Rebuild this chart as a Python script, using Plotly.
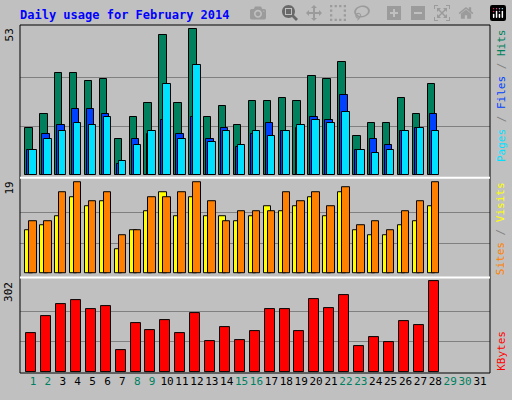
import plotly.graph_objects as go

# Data
days = list(range(1, 32))
hits = [17, 22, 37, 37, 34, 35, 13, 21, 26, 51, 26, 53, 21, 25, 18, 27, 27, 28, 27, 36, 35, 41, 14, 19, 19, 28, 22, 33]
files = [9, 15, 18, 24, 24, 22, 4, 13, 15, 20, 15, 21, 13, 17, 10, 15, 19, 16, 17, 21, 20, 29, 9, 13, 11, 16, 17, 22]
pages = [9, 13, 16, 19, 18, 21, 5, 11, 16, 33, 13, 40, 12, 16, 11, 16, 14, 16, 18, 20, 19, 23, 9, 8, 9, 16, 17, 16]
visits = [9, 10, 12, 16, 14, 15, 5, 9, 13, 17, 12, 16, 12, 12, 11, 12, 14, 13, 14, 16, 12, 17, 9, 8, 8, 10, 11, 14]
sites = [11, 11, 17, 19, 15, 17, 8, 9, 16, 16, 17, 19, 15, 11, 13, 13, 13, 17, 15, 17, 14, 18, 10, 11, 9, 13, 15, 19]
kbytes = [130, 186, 226, 239, 209, 219, 71, 163, 140, 173, 130, 196, 104, 150, 107, 137, 209, 209, 137, 243, 213, 256, 87, 117, 100, 170, 157, 302]
weekends = [1, 2, 8, 9, 15, 16, 22, 23, 29, 30]

n = len(hits)
x = days[:n]
line = dict(color="black", width=1)
font = "DejaVu Sans Mono"

fig = go.Figure()
for vals, col, off, ya in [
    (hits, "#00805C", -0.52, "y"), (files, "#0040FF", -0.38, "y"), (pages, "#00E0FF", -0.25, "y"),
    (visits, "#FFFF00", -0.52, "y2"), (sites, "#FF8000", -0.25, "y2"),
]:
    fig.add_trace(go.Bar(x=x, y=vals, width=0.5, offset=off, yaxis=ya,
                         marker=dict(color=col, line=line)))
fig.add_trace(go.Bar(x=x, y=kbytes, width=0.67, offset=-0.45, yaxis="y3",
                     marker=dict(color="#FF0000", line=line)))

def yax(dom, top, rng):
    return dict(domain=dom, range=rng, tickvals=[top / 3, 2 * top / 3], showticklabels=False,
                gridcolor="#808080", gridwidth=1, zeroline=False, showline=False, ticks="")

hmax, smax, kmax = max(hits), max(sites), max(kbytes)
ticktext = [f'<span style="color:{"#008060" if d in weekends else "black"}">{d}</span>' for d in days]

fig.update_layout(
    width=512, height=400,
    margin=dict(l=20, r=22, t=25, b=23),
    paper_bgcolor="#C0C0C0", plot_bgcolor="#C0C0C0",
    barmode="overlay", bargap=0, showlegend=False,
    font=dict(family=font, size=11, color="black"),
    xaxis=dict(anchor="y3", range=[0.13, 31.67], tickvals=days, ticktext=ticktext, tickangle=0,
               showgrid=False, zeroline=False, ticks="", tickfont=dict(size=11)),
    yaxis=yax([0.5625, 1], hmax, [-0.83, hmax + 1.5]),
    yaxis2=yax([0.2756, 0.5597], smax, [-0.76, smax + 0.89]),
    yaxis3=yax([0, 0.2727], kmax, [-4.3, kmax + 10.9]),
    shapes=[
        dict(type="rect", xref="paper", yref="paper", x0=0, x1=1, y0=0, y1=1,
             line=dict(color="black", width=1)),
        dict(type="line", xref="paper", yref="paper", x0=0, x1=1, y0=0.5611, y1=0.5611,
             line=dict(color="white", width=2)),
        dict(type="line", xref="paper", yref="paper", x0=0, x1=1, y0=0.2741, y1=0.2741,
             line=dict(color="white", width=2)),
    ],
    annotations=[
        dict(text="<b>Daily usage for February 2014</b>", x=-0.005, y=1.028, xref="paper",
             yref="paper", xanchor="left", yanchor="middle", showarrow=False,
             font=dict(color="#0000FF", size=12)),
    ],
)

for txt, yd in [(str(hmax), 0.995), (str(smax), 0.555), (str(kmax), 0.268)]:
    fig.add_annotation(text=txt, xref="paper", yref="paper", x=-0.005, y=yd, xanchor="right",
                       yanchor="top", textangle=-90, showarrow=False, font=dict(size=11))

side = [
    ('<span style="color:#00E0FF">Pages</span> / <span style="color:#0040FF">Files</span> / '
     '<span style="color:#00805C">Hits</span>', 0.995),
    ('<span style="color:#FF8000">Sites</span> / <span style="color:#FFFF00">Visits</span>', 0.555),
    ('<span style="color:#FF0000">KBytes</span>', 0.0),
]
for txt, yd in side:
    fig.add_annotation(text=txt, xref="paper", yref="paper", x=1.005, y=yd, xanchor="left",
                       yanchor="top" if yd > 0.1 else "bottom", textangle=-90, showarrow=False,
                       font=dict(size=11, color="#808080"))

fig.write_html("out.html", post_script="document.body.style.margin='0';")
